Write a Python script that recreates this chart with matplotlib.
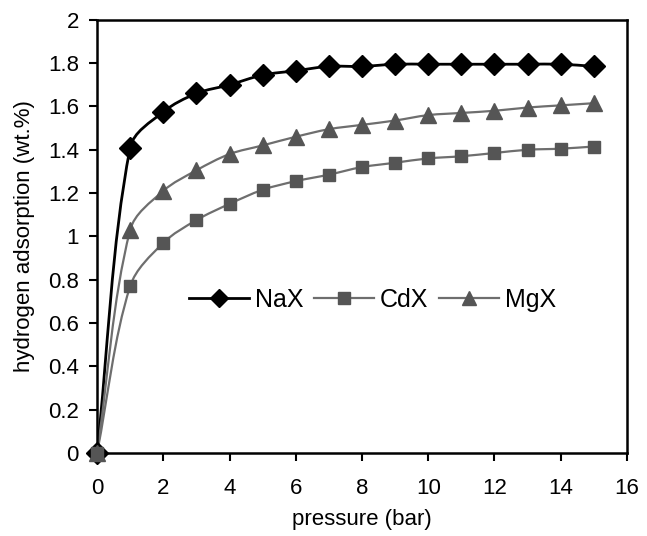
import matplotlib
matplotlib.use("Agg")
import matplotlib.pyplot as plt
import numpy as np
from matplotlib.path import Path
from matplotlib.patches import PathPatch
from matplotlib.lines import Line2D

plt.rcParams['font.family'] = ['Liberation Sans', 'DejaVu Sans']

pressure = [0, 1, 2, 3, 4, 5, 6, 7, 8, 9, 10, 11, 12, 13, 14, 15]
nax = [0, 1.41, 1.575, 1.66, 1.70, 1.745, 1.765, 1.785, 1.785, 1.795,
       1.795, 1.795, 1.795, 1.795, 1.795, 1.785]
cdx = [0, 0.77, 0.97, 1.075, 1.15, 1.215, 1.255, 1.285, 1.32, 1.34,
       1.36, 1.37, 1.385, 1.40, 1.405, 1.415]
mgx = [0, 1.03, 1.21, 1.305, 1.38, 1.42, 1.46, 1.495, 1.515, 1.535,
       1.56, 1.57, 1.58, 1.595, 1.605, 1.615]


def smooth_path(ax, x, y):
    """Smoothed line (Bezier through the points), built in screen space."""
    p = ax.transData.transform(np.column_stack([x, y]).astype(float))
    n = len(p)
    verts = [p[0]]
    for i in range(n - 1):
        p0 = p[i - 1] if i > 0 else p[i]
        p3 = p[i + 2] if i + 2 < n else p[i + 1]
        d01 = np.hypot(*(p[i] - p0))
        d12 = np.hypot(*(p[i + 1] - p[i]))
        d23 = np.hypot(*(p3 - p[i + 1]))
        c1 = p[i] + (p[i + 1] - p0) * d12 / (d01 + d12) / 3
        c2 = p[i + 1] - (p3 - p[i]) * d12 / (d12 + d23) / 3
        verts += [c1, c2, p[i + 1]]
    verts = ax.transData.inverted().transform(np.array(verts))
    codes = [Path.MOVETO] + [Path.CURVE4] * (3 * (n - 1))
    return Path(verts, codes)


fig = plt.figure(figsize=(6.47, 5.36), dpi=100)
ax = fig.add_axes([0.150, 0.155, 0.819, 0.808])
ax.set_xlim(0, 16)
ax.set_ylim(0, 2)

# name, values, line colour, marker, marker colour, lw, size, legend size, z
series = [
    ("NaX", nax, "black", "D", "black", 2.0, 11, 9, 3),
    ("CdX", cdx, "#6e6e6e", "s", "#555555", 1.6, 9, 8, 5),
    ("MgX", mgx, "#6e6e6e", "^", "#555555", 1.6, 12, 10, 4),
]

handles = []
for name, vals, lc, mk, mc, lw, ms, lms, z in series:
    ax.add_patch(PathPatch(smooth_path(ax, pressure, vals), fill=False,
                           edgecolor=lc, lw=lw, zorder=2))
    ax.plot(pressure, vals, linestyle="none", marker=mk, markersize=ms,
            markerfacecolor=mc, markeredgecolor=mc, zorder=z, clip_on=False)
    handles.append(Line2D([], [], color=lc, lw=lw, marker=mk, markersize=lms,
                          markerfacecolor=mc, markeredgecolor=mc, label=name))

ax.set_xticks(np.arange(0, 17, 2))
ax.set_yticks(np.arange(0, 2.01, 0.2))
ax.set_yticklabels([f"{v:g}" for v in np.round(np.arange(0, 2.01, 0.2), 1)])
ax.tick_params(direction="out", length=6, width=1.5, labelsize=16, pad=7)
ax.tick_params(axis="x", pad=12)
for s in ax.spines.values():
    s.set_linewidth(1.8)

ax.set_xlabel("pressure (bar)", fontsize=16, labelpad=7)
ax.set_ylabel("hydrogen adsorption (wt.%)", fontsize=16, labelpad=9)

ax.legend(handles=handles, loc="center", bbox_to_anchor=(0.52, 0.353),
          ncol=3, frameon=False, fontsize=18, handlelength=2.4,
          columnspacing=0.4, handletextpad=0.25, borderpad=0)

fig.savefig("out.png", dpi=100)
